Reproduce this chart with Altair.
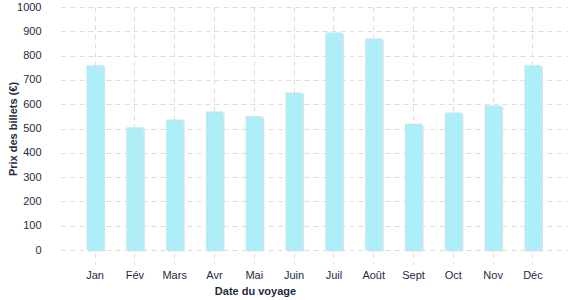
import altair as alt
import pandas as pd

mois = ["Jan", "Fév", "Mars", "Avr", "Mai", "Juin", "Juil", "Août", "Sept", "Oct", "Nov", "Déc"]
prix = [760, 505, 537, 570, 550, 648, 895, 870, 520, 566, 595, 760]

df = pd.DataFrame({"mois": mois, "prix": prix})

FONT = "Liberation Sans"
TXT = "#1f2a44"
GRID = "#dddddd"

x_enc = alt.X(
    "mois:N",
    sort=mois,
    title="Date du voyage",
    scale=alt.Scale(paddingInner=0.57, paddingOuter=0.64),
    axis=alt.Axis(
        labelAngle=0,
        grid=True,
        gridDash=[5, 4],
        gridColor=GRID,
        bandPosition=0.5,
        ticks=True,
        tickSize=11,
        tickDash=[5, 4],
        tickColor=GRID,
        offset=3,
        domain=False,
        labelPadding=5,
        labelFont=FONT,
        labelFontSize=11,
        labelColor=TXT,
        titleFont=FONT,
        titleFontSize=11,
        titleFontWeight="bold",
        titleColor=TXT,
        titleX=194,
        titleAlign="center",
        titlePadding=5,
    ),
)

y_enc = alt.Y(
    "prix:Q",
    title="Prix des billets (€)",
    scale=alt.Scale(domain=[0, 1000], nice=False),
    axis=alt.Axis(
        values=list(range(0, 1001, 100)),
        format="d",
        grid=True,
        gridDash=[5, 4],
        gridColor=GRID,
        ticks=False,
        domain=False,
        labelPadding=20,
        labelFont=FONT,
        labelFontSize=11,
        labelColor=TXT,
        titleFont=FONT,
        titleFontSize=11,
        titleFontWeight="bold",
        titleColor=TXT,
        titlePadding=-2,
    ),
)

shadow = alt.Chart(df).mark_bar(color="#e0e0e0", xOffset=1.5, yOffset=1.5).encode(x=x_enc, y=y_enc)
bars = alt.Chart(df).mark_bar(color="#aeeef8").encode(x=x_enc, y=y_enc)

chart = (
    alt.layer(shadow, bars)
    .properties(
        width=506,
        height=243,
        autosize=alt.AutoSizeParams(type="none"),
        padding={"left": 61, "top": 7, "right": 10, "bottom": 50},
    )
    .configure_view(stroke=None)
)

chart.save("out.html", embed_options={"renderer": "svg", "actions": False})
